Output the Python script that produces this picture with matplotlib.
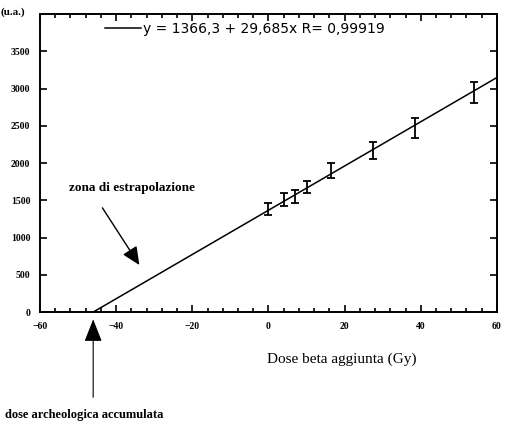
import numpy as np
import matplotlib
matplotlib.use("Agg")
import matplotlib.pyplot as plt
from matplotlib.ticker import MultipleLocator

# dose points (Gy), luminescence (u.a.) and error bars
dose = [0, 4, 7, 10, 16.5, 27.5, 38.5, 54]
signal = [1380, 1515, 1555, 1675, 1900, 2170, 2465, 2950]
err = [80, 85, 85, 80, 100, 115, 135, 140]

# linear fit reported on the chart
intercept = 1366.3
slope = 29.685
r_value = "0,99919"
fit_label = "y = 1366,3 + 29,685x R= %s" % r_value

xticks = [-60, -40, -20, 0, 20, 40, 60]
yticks = [0, 500, 1000, 1500, 2000, 2500, 3000, 3500]

serif = "Liberation Serif"

fig = plt.figure(figsize=(5.06, 4.24), dpi=100)
ax = fig.add_axes([0.079, 0.264, 0.903, 0.703])

x0 = -intercept / slope
xl = np.array([x0, 60])
ax.plot(xl, intercept + slope * xl, color="black", lw=1.1, label=fit_label)
ax.errorbar(dose, signal, yerr=err, fmt="none", ecolor="black",
            elinewidth=1.3, capsize=3, capthick=1.3)

ax.set_xlim(-60, 60)
ax.set_ylim(0, 4000)
ax.set_xticks(xticks)
ax.set_yticks(yticks)
ax.xaxis.set_minor_locator(MultipleLocator(4))
ax.tick_params(which="both", direction="in", top=True, right=True,
               width=1.2)
ax.tick_params(which="major", length=5)
ax.tick_params(which="minor", length=3)
ax.tick_params(axis="both", labelsize=7, pad=7)
for lab in ax.get_xticklabels() + ax.get_yticklabels():
    lab.set_fontfamily(serif)
    lab.set_fontweight("bold")
for s in ax.spines.values():
    s.set_linewidth(1.4)

ax.set_xlabel("Dose beta aggiunta (Gy)", family=serif, fontsize=11)
ax.xaxis.set_label_coords(0.66, -0.135)

leg = ax.legend(loc="upper left", bbox_to_anchor=(0.115, 1.015),
                frameon=False, handlelength=2.6, handletextpad=0.1,
                prop=dict(family="DejaVu Sans", size=10))

# extrapolation arrow
ax.annotate("", xy=(-33.5, 600), xytext=(-44, 1430),
            arrowprops=dict(arrowstyle="-|>,head_length=1.1,head_width=0.5",
                            color="black", lw=1))
ax.text(-52.5, 1660, "zona di estrapolazione", family=serif,
        fontweight="bold", fontsize=9.5, ha="left", va="center")

# archaeological dose arrow below the axis
ax.annotate("", xy=(x0, -60), xytext=(x0, -1180),
            xycoords="data", annotation_clip=False,
            arrowprops=dict(arrowstyle="-|>,head_length=1.4,head_width=0.55",
                            color="black", lw=0.8))
fig.text(5 / 506, 1 - 415 / 424, "dose archeologica accumulata",
         family=serif, fontweight="bold", fontsize=9, va="center")

# y-axis unit
fig.text(1 / 506, 1 - 12 / 424, "(u.a.)", family=serif,
         fontweight="bold", fontsize=8, ha="left", va="center")

plt.savefig("out.png", dpi=100)
